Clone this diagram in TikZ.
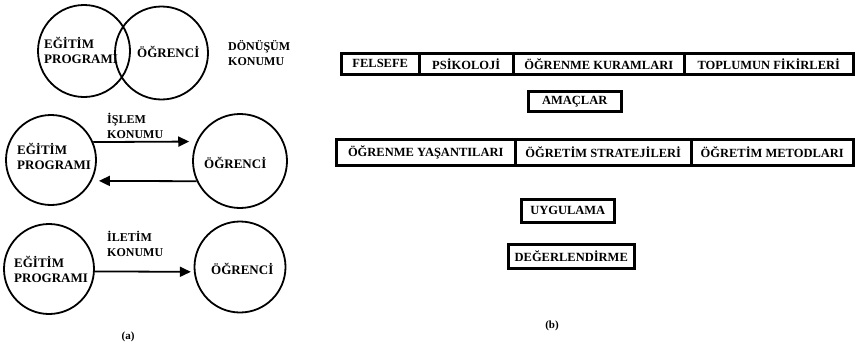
\documentclass[tikz,border=0pt]{standalone}
\usepackage{fontspec}
\setmainfont{Liberation Serif}
\usetikzlibrary{arrows.meta}
\begin{document}
\begin{tikzpicture}[x=1pt,y=-1pt,
  every node/.style={font=\bfseries\fontsize{12.5}{14}\selectfont},
  ring/.style={draw, circle, line width=1.8pt, inner sep=0pt},
  lbl/.style={align=left, inner sep=0pt, anchor=west,
    font=\bfseries\fontsize{13}{15}\selectfont},
  small lbl/.style={lbl, font=\bfseries\fontsize{12}{15}\selectfont},
  cell/.style={draw, rectangle, line width=2.5pt, inner sep=0pt, anchor=north west},
  arr/.style={line width=1.8pt, -{Triangle[length=11pt,width=10pt]}},
  subcaption/.style={font=\bfseries\fontsize{11}{13}\selectfont}
]
\useasboundingbox (0,0) rectangle (863,348);

% --- (a): transformation position (overlapping circles)
\node[ring, minimum size=92pt] (vp) at (84,51) {};
\node[ring, minimum size=93pt] (vo) at (161.5,53) {};
\node[lbl] (vpt) at (44,50) {EĞİTİM\\PROGRAMI};
\node[lbl] (vot) at (137,52) {ÖĞRENCİ};
\node[small lbl] (vk) at (228,53) {DÖNÜŞÜM\\KONUMU};

% --- (a): transaction position (two-way arrows)
\node[ring, minimum size=90pt] (tp) at (51,160) {};
\node[ring, minimum size=94pt] (to) at (240,161) {};
\node[lbl] (tpt) at (17,156) {EĞİTİM\\PROGRAMI};
\node[lbl] (tot) at (204,163) {ÖĞRENCİ};
\node[small lbl] (tk) at (107,126) {İŞLEM\\KONUMU};
\draw[arr, shorten >=7pt] (tp.23.6) -- (to.156.2);
\draw[arr, shorten >=7pt] (to.205.2) -- (tp.-27.8);

% --- (a): transmission position (one-way arrow)
\node[ring, minimum size=90pt] (sp) at (49,269) {};
\node[ring, minimum size=91pt] (so) at (240,267) {};
\node[lbl] (spt) at (14,269) {EĞİTİM\\PROGRAMI};
\node[lbl] (sot) at (211,269) {ÖĞRENCİ};
\node[small lbl] (sk) at (107,244) {İLETİM\\KONUMU};
\draw[arr, shorten >=3pt] (sp.-3.8) -- (so.186.3);

\node[subcaption] (capa) at (128,337) {(a)};

% --- (b): curriculum components
\node[cell, minimum width=78pt,  minimum height=21pt] (f1) at (340,52) {FELSEFE};
\node[cell, minimum width=94pt,  minimum height=21pt] (f2) at (418,52) {PSİKOLOJİ};
\node[cell, minimum width=171pt, minimum height=21pt] (f3) at (512,52) {ÖĞRENME KURAMLARI};
\node[cell, minimum width=169pt, minimum height=21pt] (f4) at (683,52) {TOPLUMUN FİKİRLERİ};

\node[cell, minimum width=93pt, minimum height=20pt] (am) at (527,90) {AMAÇLAR};

\node[cell, minimum width=179pt, minimum height=26pt] (g1) at (335,138) {ÖĞRENME YAŞANTILARI};
\node[cell, minimum width=176pt, minimum height=26pt] (g2) at (514,138) {ÖĞRETİM STRATEJİLERİ};
\node[cell, minimum width=162pt, minimum height=26pt] (g3) at (690,138) {ÖĞRETİM METODLARI};

\node[cell, minimum width=93pt,  minimum height=23pt] (uy) at (520,198) {UYGULAMA};
\node[cell, minimum width=126pt, minimum height=24pt] (de) at (507,243) {DEĞERLENDİRME};

\node[subcaption] (capb) at (552,326) {(b)};
\end{tikzpicture}
\end{document}
